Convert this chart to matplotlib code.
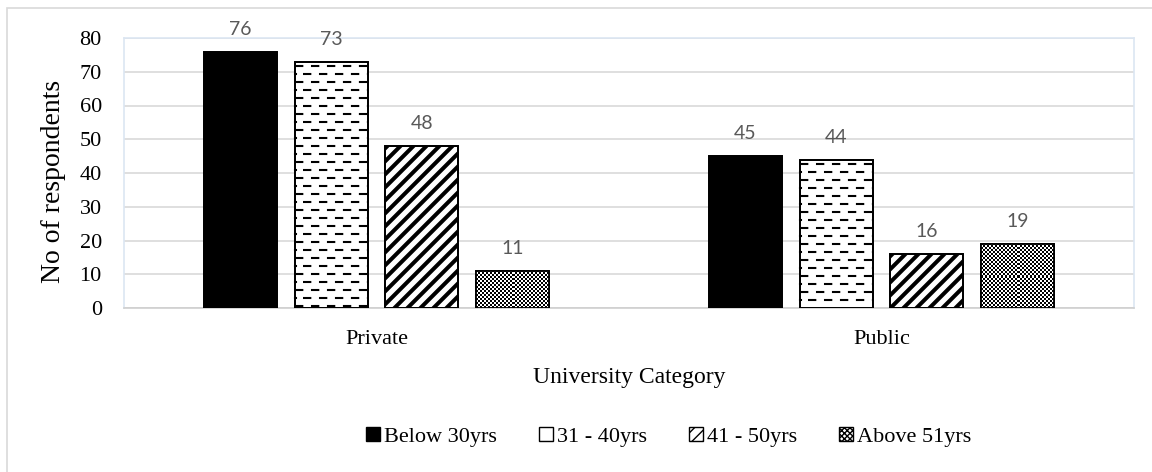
import numpy as np
import matplotlib
matplotlib.use("Agg")
import matplotlib.pyplot as plt
from matplotlib.patches import Rectangle, Patch
from matplotlib.lines import Line2D

# ---- data -------------------------------------------------------------
categories = ["Private", "Public"]
age_groups = ["Below 30yrs", "31 - 40yrs", "41 - 50yrs", "Above 51yrs"]
below_30 = [76, 45]
age_31_40 = [73, 44]
age_41_50 = [48, 16]
above_51 = [11, 19]
y_ticks = [0, 10, 20, 30, 40, 50, 60, 70, 80]

series = [below_30, age_31_40, age_41_50, above_51]
patterns = ["solid", "dashes", "stripes", "checker"]

plt.rcParams["font.family"] = ["Liberation Serif", "DejaVu Serif"]
plt.rcParams["lines.scale_dashes"] = False
plt.rcParams["hatch.linewidth"] = 1.0

DPI = 100
W, H = 1152, 472
fig = plt.figure(figsize=(W / DPI, H / DPI), dpi=DPI)

# outer chart frame
fig.patches.append(Rectangle((7 / W, -0.1), 1.2, (H - 8) / H + 0.1,
                             transform=fig.transFigure, fill=False,
                             edgecolor="#d9d9d9", linewidth=1.2))

ax = fig.add_axes([124 / W, (H - 308) / H, (1134 - 124) / W, (308 - 38) / H])
ax.set_xlim(-0.5, 1.5)
ax.set_ylim(0, 80)
ax.set_yticks(y_ticks)
ax.set_yticklabels([str(t) for t in y_ticks], fontsize=16)
ax.set_xticks(range(len(categories)))
ax.set_xticklabels(categories, fontsize=16)
ax.tick_params(length=0)
ax.tick_params(axis="y", pad=16)
ax.tick_params(axis="x", pad=16)
ax.grid(axis="y", color="#d9d9d9", linewidth=1.2)
ax.set_axisbelow(True)
for s in ["left", "top", "right"]:
    ax.spines[s].set_color("#dce6f2")
    ax.spines[s].set_linewidth(1.2)
ax.spines["bottom"].set_color("#cfcfcf")
ax.spines["bottom"].set_linewidth(1.2)

ax.set_xlabel("University Category", fontsize=17, labelpad=13)
ax.set_ylabel("No of respondents", fontsize=20)
ax.yaxis.set_label_coords((66 - 124) / 1010, 0.467)

bar_w = 0.1445
step = 0.18
x = np.arange(len(categories))

to_data = ax.transData.inverted()
to_disp = ax.transData


def px_to_data(px, py):
    return to_data.transform(np.column_stack([px, py]))


for i, (vals, pat) in enumerate(zip(series, patterns)):
    offs = (i - 1.5) * step
    face = "black" if pat == "solid" else "white"
    bars = ax.bar(x + offs, vals, width=bar_w, color=face,
                  edgecolor="black", linewidth=1.3, zorder=3)
    for b, v in zip(bars, vals):
        # pixel corners of the bar (display y grows upward)
        (xl, yb), (xr, yt) = to_disp.transform([[b.get_x(), 0],
                                                [b.get_x() + b.get_width(), v]])
        if pat == "dashes":
            yy = yt - 4
            k = 0
            while yy > yb + 1:
                start = xl if k % 2 == 0 else xl + 8
                pts = px_to_data([start, xr + 20], [yy, yy])
                ln = Line2D(pts[:, 0], pts[:, 1], color="black", linewidth=1.5,
                            dashes=(6.0, 5.5), dash_capstyle="butt", zorder=4)
                ax.add_line(ln)
                ln.set_clip_path(b)
                if k % 2 == 1:
                    p2 = px_to_data([xl, xl + 1.5], [yy, yy])
                    l2 = Line2D(p2[:, 0], p2[:, 1], color="black",
                                linewidth=1.5, zorder=4)
                    ax.add_line(l2)
                yy -= 8
                k += 1
        elif pat == "stripes":
            period = 13
            hgt = yt - yb
            c = xl - hgt - period
            while c < xr + period:
                pts = px_to_data([c, c + hgt + 4], [yb - 2, yt + 2])
                ln = Line2D(pts[:, 0], pts[:, 1], color="black",
                            linewidth=2.9, solid_capstyle="butt", zorder=4)
                ax.add_line(ln)
                ln.set_clip_path(b)
                c += period
        elif pat == "checker":
            nx = max(1, int(round((xr - xl) / 2.0)))
            ny = max(1, int(round((yt - yb) / 2.0)))
            grid = (np.add.outer(np.arange(ny), np.arange(nx)) % 2).astype(float)
            im = ax.imshow(grid, cmap="gray", vmin=0, vmax=1,
                           extent=[b.get_x(), b.get_x() + b.get_width(), 0, v],
                           interpolation="nearest", aspect="auto", zorder=4)
            im.set_clip_path(b)
        # outline on top of the pattern
        ax.add_patch(Rectangle((b.get_x(), 0), b.get_width(), v, fill=False,
                               edgecolor="black", linewidth=1.3, zorder=5))
        ax.annotate(f"{v}", (b.get_x() + b.get_width() / 2, v),
                    xytext=(0, 10), textcoords="offset points",
                    ha="center", va="bottom", fontsize=14, color="#595959",
                    family=["Lato", "DejaVu Sans"])

ax.set_xlim(-0.5, 1.5)
ax.set_ylim(0, 80)

handles = [
    Patch(facecolor="black", edgecolor="black", linewidth=1.0),
    Patch(facecolor="white", edgecolor="black", hatch="-", linewidth=1.0),
    Patch(facecolor="white", edgecolor="black", hatch="///", linewidth=1.0),
    Patch(facecolor="white", edgecolor="black", hatch="xxxxxx", linewidth=1.0),
]
fig.legend(handles, age_groups, loc="center", bbox_to_anchor=(669 / W, 1 - 437 / H),
           ncol=4, frameon=False, fontsize=16, handlelength=0.6,
           handleheight=0.6, handletextpad=0.2, columnspacing=1.9)

fig.savefig("out.png", dpi=DPI, facecolor="white")
